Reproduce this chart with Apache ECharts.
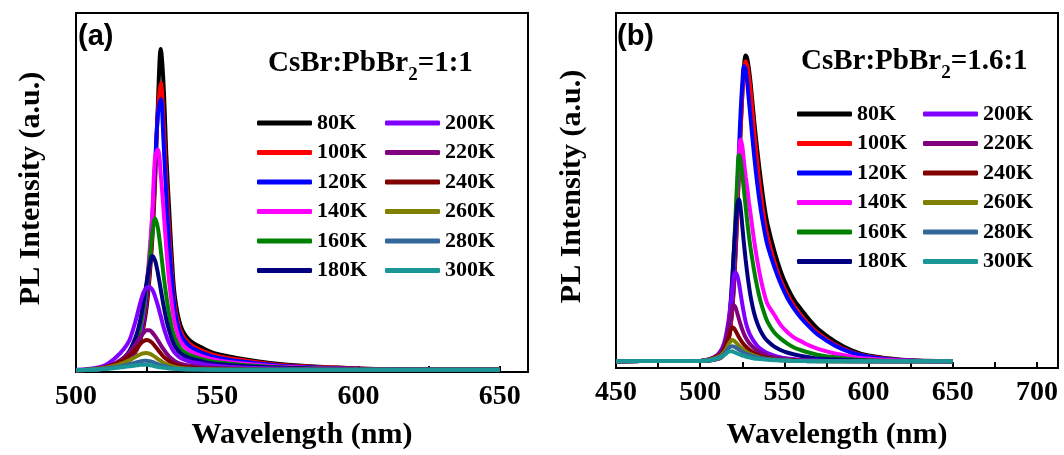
<!DOCTYPE html>
<html>
<head>
<meta charset="utf-8">
<script src="https://cdn.jsdelivr.net/npm/echarts@6/dist/echarts.min.js"></script>
<style>
  html, body { margin: 0; padding: 0; background: #fff; }
  #chart { width: 1064px; height: 455px; }
</style>
</head>
<body>
<div id="chart"></div>
<script>
// wavelength grids (nm)
var wlA = [500, 505, 510, 514, 517, 519, 521, 522, 523, 524, 525, 526, 527, 528, 529, 530, 531, 532, 533, 534, 535, 537, 540, 545, 550, 560, 575, 600, 625, 650];
var wlB = [450, 475, 500, 505, 510, 513, 515, 517, 519, 520, 521, 522, 523, 524, 525, 526, 527, 528, 529, 530, 532, 534, 536, 538, 540, 544, 548, 552, 556, 560, 565, 570, 580, 590, 600, 620, 650];

var temps = ['80K', '100K', '120K', '140K', '160K', '180K', '200K', '220K', '240K', '260K', '280K', '300K'];
var colors = ['#000000', '#ff0000', '#0000ff', '#ff00ff', '#008000', '#000080', '#8000ff', '#800080', '#800000', '#808000', '#336699', '#1a9696'];

// (a) CsBr:PbBr2 = 1:1
var a80  = [0.5, 0.6, 0.9, 1.5, 2.5, 3.6, 5.5, 7, 9.5, 13, 18, 26, 37, 53, 75, 90, 80, 60, 45, 31, 21, 13, 9, 6.6, 5, 3.5, 2, 1, 0.7, 0.6];
var a100 = [0.5, 0.6, 0.9, 1.5, 2.5, 3.7, 5.7, 7.3, 10, 14, 19.5, 28, 39, 55, 73, 80.5, 70, 53, 39, 27, 18.5, 11.5, 8, 5.8, 4.5, 3.2, 1.8, 1, 0.7, 0.6];
var a120 = [0.5, 0.6, 0.9, 1.6, 2.7, 4, 6.2, 8, 11, 15.5, 21.5, 31, 43, 58, 72, 76, 64, 48, 35, 25, 17, 10.5, 7.3, 5.2, 4, 2.8, 1.6, 0.9, 0.7, 0.6];
var a140 = [0.5, 0.6, 1, 1.8, 3, 4.5, 7, 9, 12.5, 17, 24, 33, 44, 60, 62, 55, 45, 34, 25, 18.5, 13.5, 8.5, 6, 4.3, 3.3, 2.3, 1.4, 0.8, 0.6, 0.6];
var a160 = [0.5, 0.6, 1, 2, 3.5, 5, 8, 10, 13.5, 18, 24, 31, 38.5, 42.8, 40, 34, 27, 21, 16, 12, 9.5, 6.5, 4.8, 3.5, 2.7, 1.9, 1.2, 0.8, 0.6, 0.6];
var a180 = [0.5, 0.7, 1.1, 2.2, 4, 6, 9.5, 12, 15.5, 20, 25, 29.5, 32.3, 31, 27.5, 23, 18.5, 14.5, 11.5, 9, 7.2, 5.2, 3.9, 2.9, 2.2, 1.6, 1.1, 0.7, 0.6, 0.6];
var a200 = [0.6, 0.9, 1.8, 4, 6.5, 9, 14, 17, 20, 22.3, 23.5, 23.7, 23, 21, 18.5, 15.5, 12.5, 10, 8, 6.5, 5.3, 3.9, 3, 2.2, 1.7, 1.2, 0.9, 0.7, 0.6, 0.6];
var a220 = [0.5, 0.7, 1.3, 2.5, 4, 5.6, 7.6, 8.8, 10, 11, 11.6, 11.6, 11, 10, 8.8, 7.5, 6.3, 5.2, 4.3, 3.6, 3, 2.3, 1.8, 1.3, 1.1, 0.9, 0.7, 0.6, 0.6, 0.6];
var a240 = [0.5, 0.7, 1.2, 2.2, 3.4, 4.6, 6.2, 7.1, 8, 8.6, 8.9, 8.7, 8.1, 7.2, 6.2, 5.2, 4.3, 3.6, 3, 2.5, 2.1, 1.6, 1.3, 1, 0.9, 0.7, 0.6, 0.6, 0.6, 0.6];
var a260 = [0.5, 0.7, 1.1, 1.8, 2.6, 3.3, 4.2, 4.6, 5, 5.2, 5.3, 5.1, 4.7, 4.2, 3.6, 3.1, 2.6, 2.2, 1.9, 1.6, 1.4, 1.1, 0.9, 0.8, 0.7, 0.6, 0.6, 0.6, 0.6, 0.6];
var a280 = [0.5, 0.6, 0.9, 1.3, 1.8, 2.2, 2.6, 2.8, 3, 3.1, 3.1, 3, 2.8, 2.5, 2.2, 1.9, 1.7, 1.5, 1.3, 1.1, 1, 0.9, 0.8, 0.7, 0.6, 0.6, 0.6, 0.6, 0.6, 0.6];
var a300 = [0.5, 0.6, 0.8, 1.1, 1.4, 1.6, 1.8, 1.9, 2, 2, 2, 1.9, 1.8, 1.6, 1.4, 1.3, 1.2, 1.1, 1, 0.9, 0.9, 0.8, 0.7, 0.7, 0.6, 0.6, 0.6, 0.6, 0.6, 0.6];

// (b) CsBr:PbBr2 = 1.6:1
var b80  = [1.9, 2, 2, 2.1, 2.5, 3.2, 4.5, 8, 16, 23, 32, 43, 55, 67, 77, 85, 88, 87, 84, 80, 70, 61, 53, 46, 40.5, 33, 27, 22.5, 19, 16.5, 13.5, 11, 7.5, 5, 3.5, 2.3, 1.9];
var b100 = [1.9, 2, 2, 2.1, 2.5, 3.2, 4.6, 8.2, 16.5, 24, 33, 44, 56, 67, 77, 84, 86.4, 85, 82, 78, 67, 57.5, 49, 42, 37, 30, 24.5, 20.5, 17.3, 14.7, 12, 9.8, 6.6, 4.5, 3.3, 2.2, 1.9];
var b120 = [1.9, 2, 2, 2.1, 2.6, 3.4, 5, 9.5, 19, 27, 37, 49, 61, 72, 80, 85, 84, 80, 75, 70, 60, 51.5, 44.5, 39, 34.5, 28.5, 23.5, 19.5, 16.5, 14, 11.5, 9.3, 6.3, 4.3, 3.2, 2.2, 1.9];
var b140 = [1.9, 2, 2, 2.1, 2.7, 3.6, 5.5, 10.5, 22, 31, 40, 50, 60, 64.4, 62.5, 58, 54, 50.5, 46.5, 43, 36, 30, 25, 21, 18, 15, 12, 10, 8.5, 7.5, 6.3, 5.4, 4.1, 3.2, 2.6, 2.1, 1.9];
var b160 = [1.9, 2, 2, 2.1, 2.8, 3.8, 6, 11.5, 24, 33, 43, 53, 60, 58.5, 54.5, 50, 45.5, 41, 37, 33.5, 27.5, 22.5, 18.5, 15.5, 13, 10, 8.2, 6.8, 5.7, 5, 4.3, 3.7, 3, 2.5, 2.2, 2, 1.9];
var b180 = [1.9, 2, 2, 2.2, 3, 4.2, 6.5, 12.5, 25, 33, 40, 46, 47.5, 45, 40, 35, 30.5, 26.5, 23, 20, 15.5, 12.5, 10.3, 8.7, 7.6, 6, 5, 4.3, 3.8, 3.4, 3, 2.7, 2.4, 2.2, 2, 1.9, 1.9];
var b200 = [1.9, 2, 2, 2.4, 3.6, 5.5, 8.5, 14, 22, 26, 27, 26, 24, 21, 18, 15.3, 13, 11.3, 10, 9, 7.4, 6.2, 5.3, 4.7, 4.2, 3.5, 3, 2.7, 2.5, 2.3, 2.2, 2.1, 2, 2, 1.9, 1.9, 1.9];
var b220 = [1.9, 2, 2, 2.4, 3.5, 5, 7.5, 12, 17, 17.7, 17, 15.5, 13.8, 12.2, 10.8, 9.6, 8.6, 7.8, 7.1, 6.5, 5.6, 4.9, 4.3, 3.9, 3.5, 3, 2.7, 2.5, 2.3, 2.2, 2.1, 2, 2, 1.9, 1.9, 1.9, 1.9];
var b240 = [1.9, 2, 2, 2.3, 3.2, 4.3, 6, 8.8, 11.4, 11.2, 10.5, 9.6, 8.7, 7.9, 7.2, 6.6, 6.1, 5.6, 5.2, 4.8, 4.2, 3.7, 3.3, 3, 2.8, 2.5, 2.3, 2.2, 2.1, 2, 2, 2, 1.9, 1.9, 1.9, 1.9, 1.9];
var b260 = [1.9, 2, 2, 2.3, 3, 3.9, 5, 6.8, 7.9, 7.7, 7.3, 6.8, 6.3, 5.8, 5.4, 5, 4.7, 4.4, 4.1, 3.9, 3.5, 3.2, 2.9, 2.7, 2.5, 2.3, 2.2, 2.1, 2, 2, 2, 1.9, 1.9, 1.9, 1.9, 1.9, 1.9];
var b280 = [1.9, 2, 2, 2.2, 2.8, 3.5, 4.4, 5.7, 6.1, 6, 5.8, 5.5, 5.2, 4.9, 4.6, 4.3, 4.1, 3.9, 3.7, 3.5, 3.2, 3, 2.8, 2.6, 2.5, 2.3, 2.2, 2.1, 2, 2, 1.9, 1.9, 1.9, 1.9, 1.9, 1.9, 1.9];
var b300 = [1.9, 2, 2, 2.1, 2.6, 3.2, 3.9, 4.6, 4.7, 4.5, 4.3, 4.1, 3.9, 3.7, 3.5, 3.4, 3.2, 3.1, 3, 2.9, 2.7, 2.6, 2.5, 2.4, 2.3, 2.2, 2.1, 2.1, 2, 2, 1.9, 1.9, 1.9, 1.9, 1.9, 1.9, 1.9];

var specA = [a80, a100, a120, a140, a160, a180, a200, a220, a240, a260, a280, a300];
var specB = [b80, b100, b120, b140, b160, b180, b200, b220, b240, b260, b280, b300];

var serif = 'Liberation Serif';
var sans = 'Liberation Sans';

function pairs(xs, ys) {
    var out = [];
    for (var i = 0; i < xs.length; i++) out.push([xs[i], ys[i]]);
    return out;
}

function xAxisOf(idx, min, max, gap) {
    return {
        gridIndex: idx,
        type: 'value',
        min: min,
        max: max,
        interval: 25,
        name: 'Wavelength (nm)',
        nameLocation: 'middle',
        nameGap: gap,
        nameTextStyle: { fontFamily: serif, fontWeight: 'bold', fontSize: 30, color: '#000' },
        axisLine: { lineStyle: { color: '#000', width: 2 } },
        axisTick: { inside: true, length: 6, lineStyle: { color: '#000', width: 2 } },
        splitLine: { show: false },
        axisLabel: {
            fontFamily: serif, fontWeight: 'bold', fontSize: 28, color: '#000', margin: 11,
            formatter: function (v) { return v % 50 === 0 ? String(v) : ''; }
        }
    };
}

function yAxisOf(idx, gap) {
    return {
        gridIndex: idx,
        type: 'value',
        min: 0,
        max: 100,
        name: 'PL Intensity (a.u.)',
        nameLocation: 'middle',
        nameGap: gap,
        nameTextStyle: { fontFamily: serif, fontWeight: 'bold', fontSize: 30, color: '#000', padding: [0, 0, 0, 8] },
        axisLine: { show: true, lineStyle: { color: '#000', width: 2 } },
        axisTick: { show: false },
        axisLabel: { show: false },
        splitLine: { show: false }
    };
}

function legendOf(names, left, top) {
    return {
        data: names,
        orient: 'vertical',
        left: left,
        top: top,
        padding: 0,
        itemGap: 7.5,
        itemWidth: 55,
        itemHeight: 5,
        icon: 'roundRect',
        selectedMode: false,
        textStyle: { fontFamily: serif, fontWeight: 'bold', fontSize: 22, lineHeight: 22, color: '#000' }
    };
}

var series = [];
temps.forEach(function (t, i) {
    series.push({
        name: t, type: 'line', xAxisIndex: 0, yAxisIndex: 0,
        data: pairs(wlA, specA[i]), showSymbol: false, smooth: 0.35,
        lineStyle: { color: colors[i], width: 4 }, itemStyle: { color: colors[i] }
    });
});
temps.forEach(function (t, i) {
    series.push({
        name: t, type: 'line', xAxisIndex: 1, yAxisIndex: 1,
        data: pairs(wlB, specB[i]), showSymbol: false, smooth: 0.35,
        lineStyle: { color: colors[i], width: 4 }, itemStyle: { color: colors[i] }
    });
});

var richTitle = {
    m: { fontFamily: serif, fontWeight: 'bold', fontSize: 29, color: '#000', lineHeight: 42, verticalAlign: 'middle' },
    s: { fontFamily: serif, fontWeight: 'bold', fontSize: 19, color: '#000', lineHeight: 42, verticalAlign: 'bottom' }
};

var option = {
    animation: false,
    backgroundColor: '#fff',
    title: [
        { text: '(a)', left: 78, top: 22, padding: 0, textStyle: { fontFamily: sans, fontWeight: 'bold', fontSize: 29, color: '#000' } },
        { text: '(b)', left: 617, top: 22, padding: 0, textStyle: { fontFamily: sans, fontWeight: 'bold', fontSize: 29, color: '#000' } },
        { text: '{m|CsBr:PbBr}{s|2}{m|=1:1}', left: 268, top: 43, padding: 0, textStyle: { rich: richTitle } },
        { text: '{m|CsBr:PbBr}{s|2}{m|=1.6:1}', left: 801, top: 41, padding: 0, textStyle: { rich: richTitle } }
    ],
    legend: [
        legendOf(temps.slice(0, 6), 257, 112),
        legendOf(temps.slice(6), 385, 112),
        legendOf(temps.slice(0, 6), 797, 103),
        legendOf(temps.slice(6), 923, 103)
    ],
    grid: [
        { left: 76, top: 13, width: 452, height: 361, show: true, borderColor: '#000', borderWidth: 2, containLabel: false },
        { left: 616, top: 13, width: 442, height: 357, show: true, borderColor: '#000', borderWidth: 2, containLabel: false }
    ],
    xAxis: [xAxisOf(0, 500, 660, 48), xAxisOf(1, 450, 712.5, 52)],
    yAxis: [yAxisOf(0, 30), yAxisOf(1, 29)],
    series: series
};

var myChart = echarts.init(document.getElementById('chart'));
myChart.setOption(option);
</script>
</body>
</html>
